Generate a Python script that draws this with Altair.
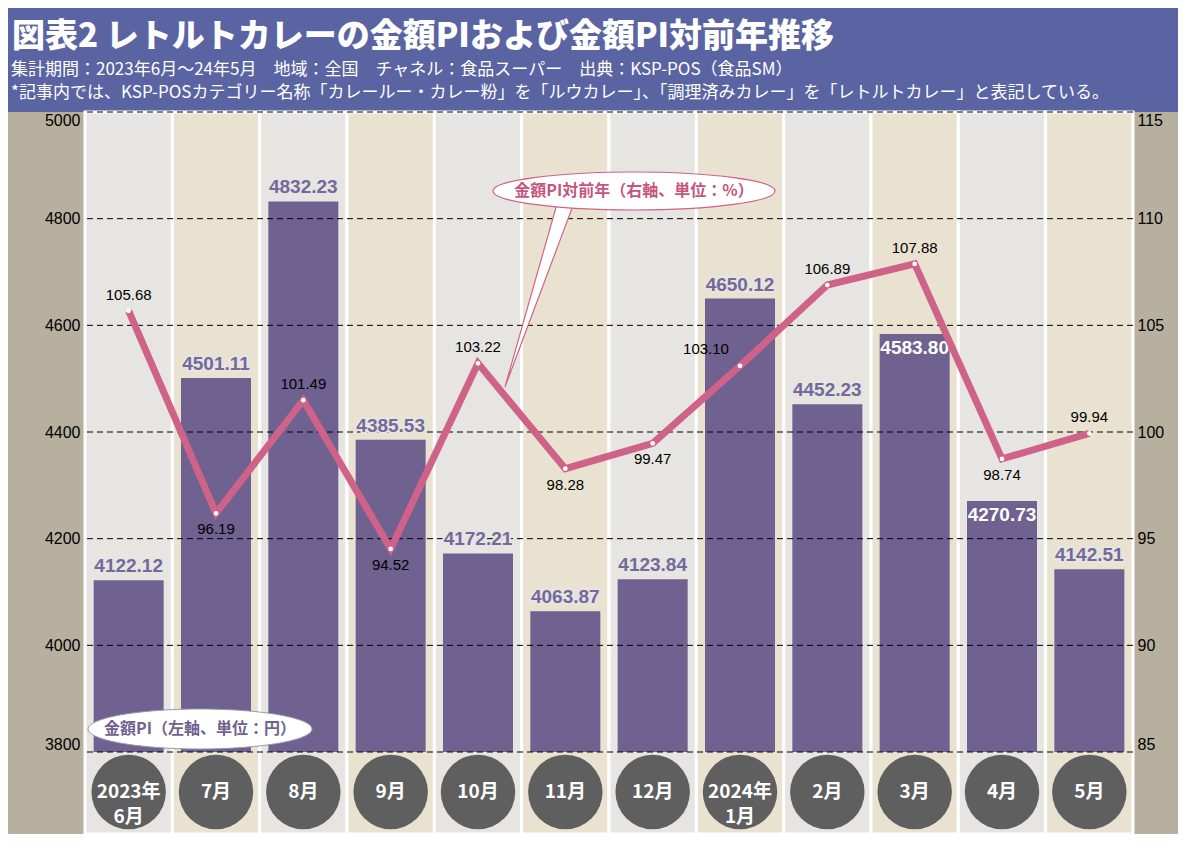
import altair as alt
import pandas as pd

# ---------------- data ----------------
months = ["2023年\n6月", "7月", "8月", "9月", "10月", "11月", "12月",
          "2024年\n1月", "2月", "3月", "4月", "5月"]
pi_values = [4122.12, 4501.11, 4832.23, 4385.53, 4172.21, 4063.87,
             4123.84, 4650.12, 4452.23, 4583.80, 4270.73, 4142.51]
yoy_values = [105.68, 96.19, 101.49, 94.52, 103.22, 98.28,
              99.47, 103.10, 106.89, 107.88, 98.74, 99.94]
pi_label_pos = ["out", "out", "out", "out", "out", "out",
                "out", "out", "out", "in", "in", "out"]
yoy_label_pos = ["above", "below", "above", "below", "above", "below",
                 "below", "left", "above", "above", "below", "above"]
stripe_kind = ["a", "b"] * 6
left_ticks = [3800, 4000, 4200, 4400, 4600, 4800, 5000]
right_ticks = [85, 90, 95, 100, 105, 110, 115]

title_text = "図表2  レトルトカレーの金額PIおよび金額PI対前年推移"
sub1_text = "集計期間：2023年6月～24年5月　地域：全国　チャネル：食品スーパー　出典：KSP-POS（食品SM）"
sub2_text = "*記事内では、KSP-POSカテゴリー名称「カレールー・カレー粉」を「ルウカレー」、「調理済みカレー」を「レトルトカレー」と表記している。"
yoy_note = "金額PI対前年（右軸、単位：%）"
pi_note = "金額PI（左軸、単位：円）"

df = pd.DataFrame({
    "month": months,
    "pi": pi_values,
    "yoy": yoy_values,
    "pipos": pi_label_pos,
    "yoypos": yoy_label_pos,
    "stripe": stripe_kind,
})
df["pi_txt"] = [f"{v:.2f}" for v in pi_values]
df["yoy_txt"] = [f"{v:.2f}" for v in yoy_values]
grid_df = pd.DataFrame({"pi": left_ticks})
one = pd.DataFrame({"k": [0]})

# ---------------- style ----------------
CJK = "Noto Sans CJK JP"
NUM = "Liberation Sans, Noto Sans CJK JP"
HEADER = "#5b64a2"
FRAME = "#b8b09f"
STRIPE_A = "#e7e5e2"
STRIPE_B = "#e9e2d0"
BAR = "#6f6190"
BAR_LABEL = "#73699a"
LINE = "#cf6288"
CIRCLE = "#5f5f5f"

PW, PH = 1048, 640

x_enc = alt.X("month:N", sort=months,
              scale=alt.Scale(paddingInner=0, paddingOuter=0), axis=None)

left_axis = alt.Axis(values=left_ticks, title=None, grid=False, domain=False,
                     ticks=False, labelFont=NUM, labelFontSize=16, format="d",
                     labelColor="black", labelPadding=5, labelFlush=True, zindex=2)
left_scale = alt.Scale(domain=[3800, 5000], zero=False, nice=False)
y_left = alt.Y("pi:Q", scale=left_scale, axis=left_axis)

right_axis = alt.Axis(values=right_ticks, title=None, grid=False, domain=False,
                      ticks=False, labelFont=NUM, labelFontSize=16, format="d",
                      labelColor="black", labelPadding=4, labelFlush=True,
                      orient="right", zindex=2)
right_scale = alt.Scale(domain=[85, 115], zero=False, nice=False)
y_right = alt.Y("yoy:Q", scale=right_scale, axis=right_axis)


def ellipse_path(ry):
    k = 0.5523
    return (f"M -1 0 C -1 {-k*ry:.4f} {-k:.4f} {-ry:.4f} 0 {-ry:.4f} "
            f"C {k:.4f} {-ry:.4f} 1 {-k*ry:.4f} 1 0 "
            f"C 1 {k*ry:.4f} {k:.4f} {ry:.4f} 0 {ry:.4f} "
            f"C {-k:.4f} {ry:.4f} -1 {k*ry:.4f} -1 0 Z")


# ---------------- background / header ----------------
header = alt.Chart(one).mark_rect(color=HEADER).encode(
    x=alt.value(-77), x2=alt.value(1097), y=alt.value(-104), y2=alt.value(0))
frame = alt.Chart(one).mark_rect(color=FRAME).encode(
    x=alt.value(-77), x2=alt.value(1097), y=alt.value(0), y2=alt.value(722))
title = alt.Chart(one).mark_text(
    text=title_text, font=CJK, fontSize=33, fontWeight=900, color="white",
    align="left", baseline="middle").encode(x=alt.value(-73), y=alt.value(-75))
sub1 = alt.Chart(one).mark_text(
    text=sub1_text, font=CJK, fontSize=17, color="white",
    align="left", baseline="middle").encode(x=alt.value(-74), y=alt.value(-42))
sub2 = alt.Chart(one).mark_text(
    text=sub2_text, font=CJK, fontSize=17, color="white",
    align="left", baseline="middle").encode(x=alt.value(-74), y=alt.value(-19))

stripes = alt.Chart(df).mark_bar(stroke="white", strokeWidth=3).encode(
    x=x_enc, y=alt.value(0), y2=alt.value(722),
    color=alt.Color("stripe:N", scale=alt.Scale(domain=["a", "b"], range=[STRIPE_A, STRIPE_B]),
                    legend=None))

# ---------------- bars (left axis) ----------------
bars = alt.Chart(df).mark_bar(size=70, color=BAR).encode(
    x=x_enc, y=y_left, y2=alt.datum(3800))

grid = alt.Chart(grid_df).mark_rule(color="black", strokeWidth=1, strokeDash=[6, 4]).encode(
    y=y_left)

bar_lab_halo = alt.Chart(df).transform_filter("datum.pipos == 'out'").mark_text(
    font=NUM, fontSize=19, fontWeight="bold", color=STRIPE_A, stroke=STRIPE_A,
    strokeWidth=4, baseline="bottom", dy=-4
).encode(x=x_enc, y=y_left, text="pi_txt:N")
bar_lab_out = alt.Chart(df).transform_filter("datum.pipos == 'out'").mark_text(
    font=NUM, fontSize=19, fontWeight="bold", color=BAR_LABEL, baseline="bottom", dy=-4
).encode(x=x_enc, y=y_left, text="pi_txt:N")
bar_lab_in = alt.Chart(df).transform_filter("datum.pipos == 'in'").mark_text(
    font=NUM, fontSize=19, fontWeight="bold", color="white", baseline="top", dy=5
).encode(x=x_enc, y=y_left, text="pi_txt:N")

circles = alt.Chart(df).mark_point(shape="circle", filled=True, size=5542,
                                   color=CIRCLE, opacity=1).encode(
    x=x_enc, y=alt.value(680))
circle_txt = alt.Chart(df).mark_text(
    font=CJK, fontSize=19, fontWeight="bold", color="white", lineBreak="\n",
    baseline="middle", lineHeight=25).encode(
    x=x_enc, y=alt.value(680), text="month:N")

left = alt.layer(header, frame, title, sub1, sub2, stripes, bars, grid,
                 bar_lab_halo, bar_lab_out, bar_lab_in, circles, circle_txt)

# ---------------- line (right axis) ----------------
line = alt.Chart(df).mark_line(color=LINE, strokeWidth=7, strokeJoin="miter").encode(
    x=x_enc, y=y_right)
dots = alt.Chart(df).mark_point(shape="circle", filled=True, size=22, color="white",
                                opacity=1).encode(x=x_enc, y=y_right)
lab_above = alt.Chart(df).transform_filter("datum.yoypos == 'above'").mark_text(
    font=NUM, fontSize=15, color="black", baseline="bottom", dy=-8).encode(
    x=x_enc, y=y_right, text="yoy_txt:N")
lab_below = alt.Chart(df).transform_filter("datum.yoypos == 'below'").mark_text(
    font=NUM, fontSize=15, color="black", baseline="top", dy=9).encode(
    x=x_enc, y=y_right, text="yoy_txt:N")
lab_left = alt.Chart(df).transform_filter("datum.yoypos == 'left'").mark_text(
    font=NUM, fontSize=15, color="black", baseline="bottom", dx=-34, dy=-9).encode(
    x=x_enc, y=y_right, text="yoy_txt:N")

right = alt.layer(line, dots, lab_above, lab_below, lab_left)

# ---------------- annotations ----------------
s1 = 141.0
ry1 = 19.0 / s1
pointer_path = "M -0.54 0.07 L -0.915 1.39 L -0.42 0.07 Z"
pointer = alt.Chart(one).mark_point(
    shape=pointer_path, filled=True, fill="white", stroke=LINE, strokeWidth=1.2,
    opacity=1, size=(2 * s1) ** 2).encode(x=alt.value(549), y=alt.value(79))
ell1 = alt.Chart(one).mark_point(
    shape=ellipse_path(ry1), filled=True, fill="white", stroke=LINE, strokeWidth=1.2,
    opacity=1, size=(2 * s1) ** 2).encode(x=alt.value(549), y=alt.value(79))
ell1_txt = alt.Chart(one).mark_text(
    text=yoy_note, font=CJK, fontSize=16, fontWeight="bold", color="#c4557e",
    baseline="middle").encode(x=alt.value(549), y=alt.value(79))

s2 = 112.0
ry2 = 20.0 / s2
ell2 = alt.Chart(one).mark_point(
    shape=ellipse_path(ry2), filled=True, fill="white", stroke="#9a96a8", strokeWidth=1,
    opacity=1, size=(2 * s2) ** 2).encode(x=alt.value(115), y=alt.value(617))
ell2_txt = alt.Chart(one).mark_text(
    text=pi_note, font=CJK, fontSize=16, fontWeight="bold", color=BAR,
    baseline="middle").encode(x=alt.value(115), y=alt.value(617))

annot = alt.layer(pointer, ell1, ell1_txt, ell2, ell2_txt)

chart = alt.layer(left, right, annot).resolve_scale(
    y="independent", color="independent"
).properties(
    width=PW, height=PH,
    autosize=alt.AutoSizeParams(type="none"),
    padding={"left": 77, "top": 104, "right": 45, "bottom": 82},
    background="white",
).configure_view(stroke=None)

chart.save("out.html", embed_options={"renderer": "svg", "actions": False})
